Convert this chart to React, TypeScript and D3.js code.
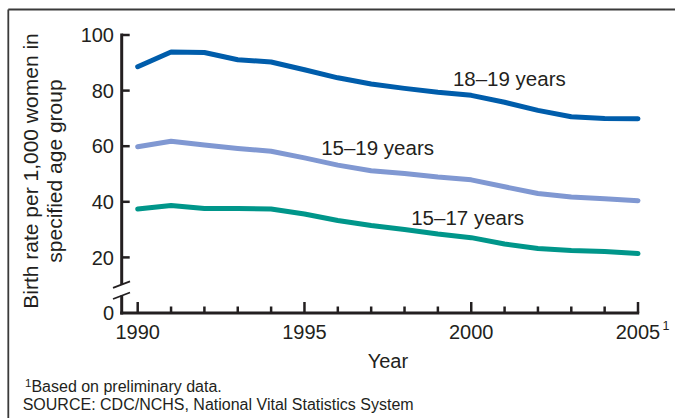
import React from "react";
import * as d3 from "d3";

const years = [1990, 1991, 1992, 1993, 1994, 1995, 1996, 1997, 1998, 1999, 2000, 2001, 2002, 2003, 2004, 2005];
const rate1819 = [88.6, 93.9, 93.7, 91.1, 90.3, 87.5, 84.6, 82.4, 80.8, 79.4, 78.3, 75.8, 72.9, 70.6, 70.0, 69.9];
const rate1519 = [59.8, 61.8, 60.4, 59.2, 58.2, 55.8, 53.2, 51.2, 50.2, 48.9, 47.9, 45.4, 43.0, 41.7, 41.1, 40.4];
const rate1517 = [37.4, 38.7, 37.6, 37.6, 37.4, 35.6, 33.3, 31.5, 30.0, 28.4, 27.1, 24.8, 23.2, 22.5, 22.1, 21.4];

const seriesNames = ["18–19 years", "15–19 years", "15–17 years"];
const seriesColors = ["#005dab", "#8098d2", "#00968a"];
// label anchor positions in data units [year, rate]
const labelAnchors: [number, number][] = [[1999.45, 81.5], [1995.5, 56.7], [1998.2, 31.5]];

const yTicks = [0, 20, 40, 60, 80, 100];
const xMajor = [1990, 1995, 2000, 2005];

const FONT = "'Liberation Sans', Arial, Helvetica, sans-serif";
const INK = "#231f20";

export default function App() {
  const W = 675, H = 418;
  const x = d3.scaleLinear().domain([1990, 2005]).range([137.7, 638]);
  const y = d3.scaleLinear().domain([0, 100]).range([313, 35]);
  const axisX = 121.7;
  const allSeries = [rate1819, rate1519, rate1517];
  const line = d3.line<number>().x((_, i) => x(years[i])).y((d) => y(d));

  const breakTop = y(10.3);
  const breakBot = y(6.3);

  return (
    <svg width={W} height={H} style={{ position: "absolute", left: 0, top: 0, background: "#fff" }} fontFamily={FONT}>
      <rect x={0} y={0} width={W} height={H} fill="#fff" />
      {/* frame */}
      <line x1={8.3} y1={9.5} x2={W} y2={9.5} stroke="#3a3a3a" strokeWidth={1.8} />
      <line x1={8.3} y1={9.5} x2={8.3} y2={H} stroke="#3a3a3a" strokeWidth={1.8} />

      {/* series */}
      {allSeries.map((s, i) => (
        <path key={i} d={line(s) || ""} fill="none" stroke={seriesColors[i]} strokeWidth={5} strokeLinecap="round" strokeLinejoin="round" />
      ))}

      {/* y axis */}
      <line x1={axisX} y1={y(100) - 1.5} x2={axisX} y2={breakTop} stroke={INK} strokeWidth={3} />
      <line x1={axisX} y1={breakBot} x2={axisX} y2={y(0) + 1.5} stroke={INK} strokeWidth={3} />
      <line x1={113} y1={breakTop + 3.5} x2={130} y2={breakTop - 3} stroke={INK} strokeWidth={1.8} />
      <line x1={113} y1={breakBot + 3.5} x2={130} y2={breakBot - 3} stroke={INK} strokeWidth={1.8} />
      {yTicks.filter((t) => t > 0).map((t) => (
        <line key={t} x1={axisX} x2={axisX + 8} y1={y(t)} y2={y(t)} stroke={INK} strokeWidth={2.5} />
      ))}
      {yTicks.map((t) => (
        <text key={t} x={114} y={y(t)} dy="0.36em" textAnchor="end" fontSize={20} fill={INK}>{t}</text>
      ))}

      {/* x axis */}
      <line x1={axisX - 1.5} y1={y(0)} x2={x(2005) + 1.2} y2={y(0)} stroke={INK} strokeWidth={3} />
      {years.map((yr) => {
        const major = xMajor.includes(yr);
        return (
          <line key={yr} x1={x(yr)} x2={x(yr)} y1={y(0)} y2={y(0) - (major ? 11 : 6.5)} stroke={INK} strokeWidth={2.5} />
        );
      })}
      {xMajor.map((t) => (
        <text key={t} x={x(t)} y={338.5} textAnchor="middle" fontSize={20} fill={INK}>{t}</text>
      ))}
      <text x={x(2005) + 24.5} y={330} fontSize={12.5} fill={INK}>1</text>

      {/* axis titles */}
      <text x={x(1997.5)} y={367.5} textAnchor="middle" fontSize={20} fill={INK}>Year</text>
      <g transform="translate(0,171) rotate(-90)">
        <text x={0} y={38} textAnchor="middle" fontSize={21} fill={INK}>Birth rate per 1,000 women in</text>
        <text x={0} y={61.5} textAnchor="middle" fontSize={21} fill={INK}>specified age group</text>
      </g>

      {/* series labels */}
      {seriesNames.map((n, i) => (
        <text key={n} x={x(labelAnchors[i][0])} y={y(labelAnchors[i][1])} fontSize={20.5} fill={INK}>{n}</text>
      ))}

      {/* footnotes */}
      <text x={25} y={392} fontSize={16} fill={INK}>
        <tspan fontSize={11.5} dy={-5}>1</tspan>
        <tspan dy={5}>Based on preliminary data.</tspan>
      </text>
      <text x={22.7} y={410} fontSize={16} fill={INK}>SOURCE: CDC/NCHS, National Vital Statistics System</text>
    </svg>
  );
}
